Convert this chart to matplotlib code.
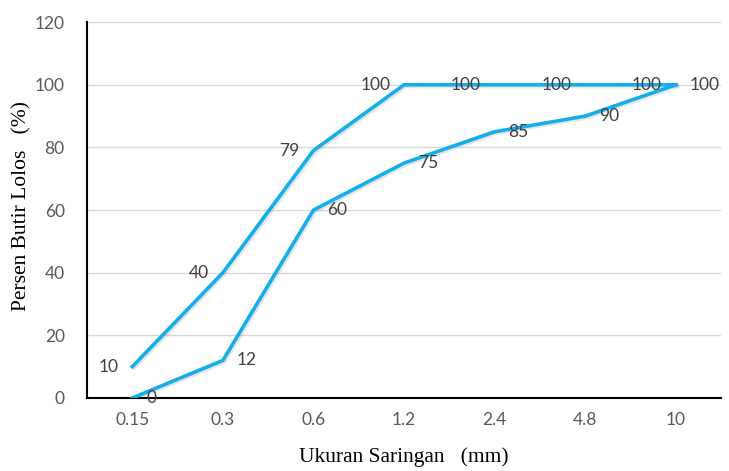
import matplotlib
matplotlib.use("Agg")
import matplotlib.pyplot as plt
import matplotlib.patheffects as pe

categories = ["0.15", "0.3", "0.6", "1.2", "2.4", "4.8", "10"]
upper = [10, 40, 79, 100, 100, 100, 100]
lower = [0, 12, 60, 75, 85, 90, 100]
yticks = [0, 20, 40, 60, 80, 100, 120]

color = "#14AFEA"
fig = plt.figure(figsize=(7.29, 4.71), dpi=100)
ax = fig.add_axes([0.1193, 0.155, 0.87, 0.798])
x = list(range(len(categories)))

shadow = [pe.SimpleLineShadow(offset=(1.2, -1.2), shadow_color="gray", alpha=0.2), pe.Normal()]
ax.plot(x, upper, color=color, lw=2.6, path_effects=shadow, zorder=3)
ax.plot(x, lower, color=color, lw=2.6, path_effects=shadow, zorder=3)

lab_font = dict(family="Lato", fontsize=12.5, color="#404040")
for xi, v in zip(x, upper):
    ax.annotate(str(v), (xi, v), xytext=(-10, 0), textcoords="offset points",
                ha="right", va="center", zorder=4, **lab_font)
for xi, v in zip(x, lower):
    ax.annotate(str(v), (xi, v), xytext=(10, 0), textcoords="offset points",
                ha="left", va="center", zorder=4, **lab_font)

ax.set_xlim(-0.5, len(categories) - 0.5)
ax.set_ylim(0, 120)
ax.set_yticks(yticks)
ax.set_xticks(x)
ax.set_xticklabels(categories)
for lbl in ax.get_xticklabels() + ax.get_yticklabels():
    lbl.set_family("Lato")
    lbl.set_fontsize(12.5)
    lbl.set_color("#595959")
ax.tick_params(length=0, pad=10)
ax.tick_params(axis="y", pad=16)
ax.grid(axis="y", color="#D9D9D9", lw=1)
ax.set_axisbelow(True)
for s in ["top", "right"]:
    ax.spines[s].set_visible(False)
for s in ["left", "bottom"]:
    ax.spines[s].set_color("black")
    ax.spines[s].set_linewidth(1.5)

ax.set_xlabel("Ukuran Saringan   (mm)", family="Liberation Serif", fontsize=15.5, color="black")
ax.set_ylabel("Persen Butir Lolos   (%)", family="Liberation Serif", fontsize=15.5, color="black")
ax.xaxis.set_label_coords(0.5, -0.158)
ax.yaxis.set_label_coords(-0.1025, 0.51)
ax.xaxis.label.set_va("center")
ax.yaxis.label.set_va("center")

fig.savefig("out.png", dpi=100)
